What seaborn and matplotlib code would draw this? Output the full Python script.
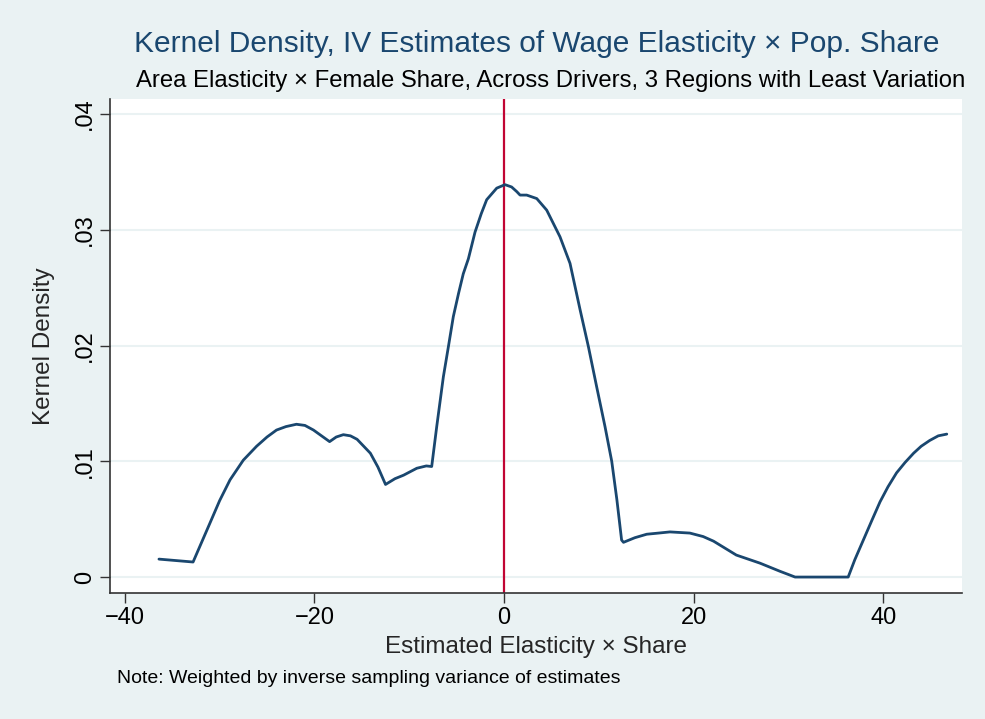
import matplotlib
matplotlib.use("Agg")
import matplotlib.pyplot as plt
import seaborn as sns
import pandas as pd

# Data
elasticity = [-36.4, -32.8, -31.9, -31.0, -30.0, -28.9, -27.5, -26.1, -25.0, -24.0,
              -23.0, -21.9, -21.0, -20.1, -18.4, -17.7, -16.95, -16.2, -15.5, -14.1,
              -13.3, -12.5, -11.5, -10.6, -9.2, -8.2, -7.63, -7.1, -6.4, -5.87, -5.35,
              -4.8, -4.3, -3.76, -3.06, -2.4, -1.83, -0.77, 0.1, 0.8, 1.34,
              1.69, 2.39, 3.45, 4.5, 5.9, 6.96, 8.02, 8.9, 9.78, 10.65,
              11.36, 11.9, 12.4, 12.6, 13.8, 15.05, 16.3, 17.5, 19.6, 21.0,
              22.1, 23.3, 24.5, 27.0, 29.1, 30.7, 36.3, 37.0, 37.9, 38.8,
              39.66, 40.5, 41.4, 42.3, 43.2, 44.0, 44.9, 45.8, 46.7]
density = [0.00155, 0.0013, 0.0030, 0.0047, 0.0066, 0.0084, 0.0101, 0.0113, 0.0121, 0.0127,
           0.0130, 0.0132, 0.0131, 0.0127, 0.0117, 0.0121, 0.0123, 0.0122, 0.0119, 0.0107,
           0.0095, 0.0080, 0.0085, 0.0088, 0.0094, 0.0096, 0.00955, 0.0130, 0.0173, 0.0199, 0.0225,
           0.0245, 0.0262, 0.0275, 0.0298, 0.0314, 0.0326, 0.0336, 0.0339, 0.0337, 0.0333,
           0.0330, 0.0330, 0.0327, 0.0317, 0.0294, 0.0271, 0.0231, 0.0199, 0.0164, 0.0130,
           0.0100, 0.0067, 0.0032, 0.0030, 0.0034, 0.0037, 0.0038, 0.0039, 0.0038, 0.0035,
           0.0031, 0.0025, 0.0019, 0.0012, 0.0005, 0.0, 0.0, 0.0015, 0.0032, 0.0049,
           0.0065, 0.0078, 0.0090, 0.0099, 0.0107, 0.0113, 0.0118, 0.0122, 0.01235]
xticks = [-40, -20, 0, 20, 40]
xtick_labels = ["\u221240", "\u221220", "0", "20", "40"]
yticks = [0, 0.01, 0.02, 0.03, 0.04]
ytick_labels = ["0", ".01", ".02", ".03", ".04"]
ref_x = 0

df = pd.DataFrame({"x": elasticity, "y": density})

sns.set_theme(style="white")
plt.rcParams["font.family"] = ["Liberation Sans", "DejaVu Sans"]

bg = "#eaf2f3"
navy = "#1a476f"
fig = plt.figure(figsize=(9.85, 7.19), dpi=100, facecolor=bg)
ax = fig.add_axes([0.1117, 0.1752, 0.8649, 0.6871])
ax.set_facecolor("white")

for t in yticks:
    ax.axhline(t, color=bg, lw=1.5, zorder=0)

sns.lineplot(data=df, x="x", y="y", ax=ax, color=navy, lw=2, sort=False, zorder=3)
ax.axvline(ref_x, color="#c10534", lw=1.6, zorder=2)

ax.set_xlim(-41.56, 48.3)
ax.set_ylim(-0.00138, 0.0413)
ax.set_xticks(xticks)
ax.set_xticklabels(xtick_labels, fontsize=17)
ax.set_yticks(yticks)
ax.set_yticklabels(ytick_labels, fontsize=17, rotation=90, va="center")

for s in ["top", "right"]:
    ax.spines[s].set_visible(False)
for s in ["left", "bottom"]:
    ax.spines[s].set_color("#333333")
    ax.spines[s].set_linewidth(1.2)
ax.tick_params(axis="both", direction="out", length=7, width=1, color="#333333",
               bottom=True, left=True, pad=3, labelcolor="black")

ax.set_xlabel("Estimated Elasticity \u00d7 Share", fontsize=17.5, labelpad=5)
ax.set_ylabel("Kernel Density", fontsize=17.5, labelpad=14)

fig.text(0.545, 0.939, "Kernel Density, IV Estimates of Wage Elasticity \u00d7 Pop. Share",
         ha="center", va="center", fontsize=21.5, color=navy)
fig.text(0.559, 0.887, "Area Elasticity \u00d7 Female Share, Across Drivers, 3 Regions with Least Variation",
         ha="center", va="center", fontsize=17.2, color="black")
fig.text(0.119, 0.057, "Note: Weighted by inverse sampling variance of estimates",
         ha="left", va="center", fontsize=14, color="black")

fig.savefig("out.png", dpi=100, facecolor=bg)
